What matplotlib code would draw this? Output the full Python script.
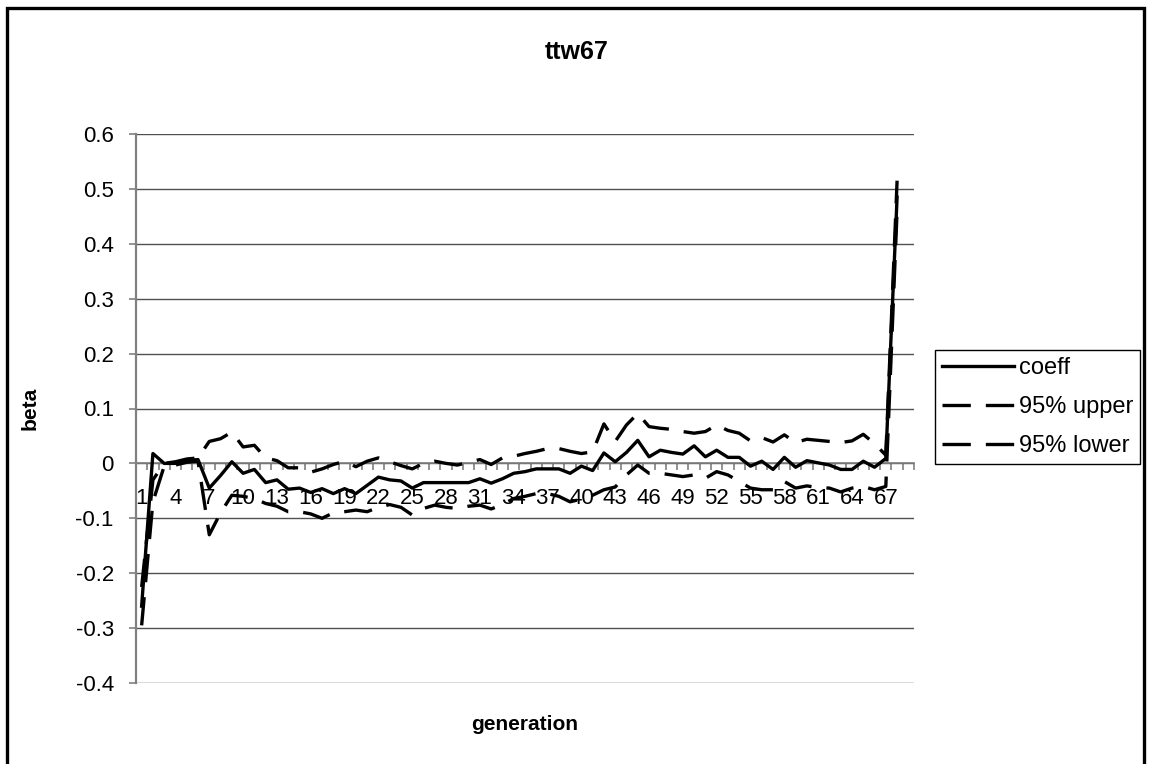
import numpy as np
import matplotlib
matplotlib.use("Agg")
import matplotlib.pyplot as plt
from matplotlib.patches import Rectangle
from matplotlib.ticker import FixedLocator, NullFormatter

# datos (generacion 1..68)
generations = list(range(1, 69))

coeff = [-0.26, 0.018, 0.0, 0.0, 0.005, 0.007, -0.045, -0.022, 0.003, -0.018,
         -0.011, -0.035, -0.03, -0.047, -0.045, -0.053, -0.046, -0.055, -0.046, -0.055,
         -0.04, -0.025, -0.03, -0.032, -0.045, -0.035, -0.035, -0.035, -0.035, -0.035,
         -0.028, -0.036, -0.028, -0.018, -0.015, -0.01, -0.01, -0.01, -0.018, -0.005,
         -0.013, 0.019, 0.003, 0.02, 0.042, 0.012, 0.024, 0.02, 0.017, 0.032,
         0.012, 0.024, 0.011, 0.011, -0.005, 0.004, -0.011, 0.011, -0.007, 0.005,
         0.001, -0.003, -0.011, -0.011, 0.004, -0.007, 0.009, 0.485]

upper = [-0.225, -0.03, 0.0, 0.003, 0.008, 0.01, 0.04, 0.045, 0.057, 0.03,
         0.033, 0.01, 0.005, -0.008, -0.008, -0.016, -0.01, -0.002, 0.004, -0.006,
         0.004, 0.01, 0.003, -0.004, -0.01, 0.0, 0.004, 0.0, -0.003, 0.002,
         0.007, -0.002, 0.01, 0.013, 0.018, 0.022, 0.027, 0.027, 0.022, 0.018,
         0.021, 0.072, 0.04, 0.07, 0.091, 0.067, 0.064, 0.062, 0.058, 0.055,
         0.058, 0.07, 0.06, 0.055, 0.041, 0.047, 0.039, 0.052, 0.038, 0.044,
         0.042, 0.04, 0.038, 0.041, 0.053, 0.036, 0.015, 0.515]

lower = [-0.295, -0.07, -0.005, -0.003, 0.002, 0.004, -0.13, -0.09, -0.058, -0.06,
         -0.064, -0.073, -0.078, -0.088, -0.088, -0.092, -0.1, -0.09, -0.088, -0.085,
         -0.088, -0.08, -0.075, -0.08, -0.094, -0.082, -0.076, -0.08, -0.082, -0.078,
         -0.076, -0.083, -0.075, -0.064, -0.06, -0.055, -0.055, -0.06, -0.07, -0.065,
         -0.058, -0.048, -0.043, -0.021, -0.003, -0.018, -0.018, -0.021, -0.024, -0.021,
         -0.027, -0.015, -0.021, -0.033, -0.045, -0.048, -0.048, -0.033, -0.045, -0.041,
         -0.044, -0.045, -0.052, -0.045, -0.042, -0.048, -0.042, 0.46]

labels = ["coeff", "95% upper", "95% lower"]
x_labels = list(range(1, 68, 3))
y_ticks = [-0.4, -0.3, -0.2, -0.1, 0.0, 0.1, 0.2, 0.3, 0.4, 0.5, 0.6]

plt.rcParams['font.family'] = ['Liberation Sans', 'DejaVu Sans']

W, H = 1152, 764
fig = plt.figure(figsize=(W / 100, H / 100), dpi=100)
fig.patch.set_facecolor('white')

# area del grafico en pixeles: izquierda 136, derecha 914, arriba 134, abajo 683
ax = fig.add_axes([136 / W, 1 - 683 / H, (914 - 136) / W, (683 - 134) / H])

lw = 2.4
ax.plot(generations, coeff, color='black', lw=lw, label=labels[0], zorder=3)
ax.plot(generations, upper, color='black', lw=lw, dashes=(8.5, 4.5), label=labels[1], zorder=3)
ax.plot(generations, lower, color='black', lw=lw, dashes=(8.5, 4.5), label=labels[2], zorder=3)

ax.set_xlim(0.5, 69.5)
ax.set_ylim(-0.4, 0.6)

# eje y
ax.set_yticks(y_ticks)
ax.set_yticklabels(["0" if v == 0 else f"{v:g}" for v in y_ticks], fontsize=16)
ax.tick_params(axis='y', direction='out', length=5, width=1.2, color='#808080', pad=11)
ax.yaxis.grid(True, color='#505050', lw=1.0)

# eje x cruzando en 0
ax.spines['bottom'].set_position(('data', 0))
ax.spines['bottom'].set_color('#808080')
ax.spines['bottom'].set_linewidth(1.2)
ax.spines['left'].set_color('#808080')
ax.spines['left'].set_linewidth(1.6)
ax.spines['top'].set_visible(False)
ax.spines['right'].set_visible(False)

ax.xaxis.set_major_locator(FixedLocator(x_labels))
ax.set_xticklabels([str(v) for v in x_labels], fontsize=16)
ax.xaxis.set_minor_locator(FixedLocator(np.arange(0.5, 70, 1)))
ax.xaxis.set_minor_formatter(NullFormatter())
ax.tick_params(axis='x', which='major', length=0, pad=18)
ax.tick_params(axis='x', which='minor', direction='out', length=5, width=1.2, color='#808080')

# textos
fig.text(577 / W, 1 - 52 / H, "ttw67", ha='center', va='center', fontsize=18, fontweight='bold')
fig.text(525 / W, 1 - 725 / H, "generation", ha='center', va='center', fontsize=15, fontweight='bold')
fig.text(30 / W, 1 - 408 / H, "beta", ha='center', va='center', fontsize=15, fontweight='bold',
         rotation=90)

leg = ax.legend(loc='upper left', bbox_to_anchor=(935 / W, 1 - 350 / H),
                bbox_transform=fig.transFigure, fontsize=17, frameon=True, fancybox=False,
                edgecolor='black', framealpha=1, borderpad=0.3, handlelength=3.05,
                handletextpad=0.2, labelspacing=0.72, borderaxespad=0)
leg.get_frame().set_linewidth(1.0)

# borde exterior del grafico
fig.patches.append(Rectangle((7 / W, -0.05), (1144 - 7) / W, 1 - 8 / H + 0.05,
                             transform=fig.transFigure, fill=False, lw=2.4, ec='black'))

fig.savefig('out.png', dpi=100)
